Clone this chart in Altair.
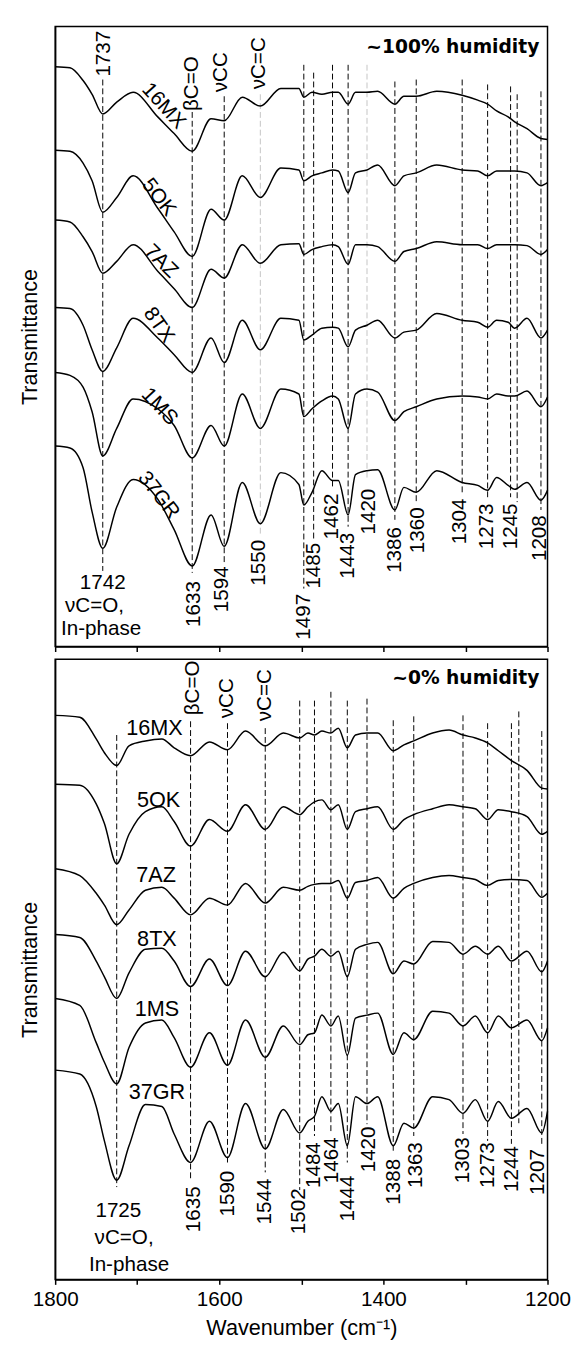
import altair as alt
import pandas as pd

SAMPLES = ["16MX", "5OK", "7AZ", "8TX", "1MS", "37GR"]

# ---------- ~100% humidity panel (transmittance, arbitrary units, offset) ----------
WN_TOP = [1800, 1782, 1766, 1755, 1742, 1725, 1705, 1675, 1655, 1633, 1610, 1594, 1572,
          1550, 1525, 1503, 1497, 1487, 1475, 1462, 1455, 1443, 1434, 1420, 1407, 1386,
          1375, 1360, 1335, 1304, 1285, 1273, 1262, 1248, 1240, 1225, 1208, 1200]
TOP_16MX = [590, 589, 576, 562, 542, 554, 564, 539, 522, 504, 537, 535, 559, 550, 568, 568,
            559, 564, 562, 564, 564, 552, 564, 564, 565, 552, 560, 560, 565, 561, 556, 552,
            545, 539, 534, 527, 517, 516]
TOP_5OK = [505, 504, 492, 474, 442, 457, 479, 446, 422, 397, 445, 434, 479, 457, 487, 485,
           474, 479, 482, 485, 484, 462, 482, 485, 490, 469, 479, 482, 490, 485, 484, 479,
           484, 484, 484, 482, 469, 472]
TOP_7AZ = [434, 432, 417, 402, 380, 392, 409, 382, 364, 345, 384, 375, 409, 390, 409, 410,
           399, 404, 407, 409, 407, 389, 409, 409, 407, 392, 402, 405, 412, 409, 409, 405,
           409, 409, 409, 408, 399, 404]
TOP_8TX = [345, 344, 327, 302, 280, 304, 334, 314, 297, 279, 314, 289, 332, 302, 334, 332,
           312, 317, 324, 325, 324, 305, 322, 327, 332, 314, 320, 322, 339, 332, 330, 325,
           332, 330, 324, 334, 314, 322]
TOP_1MS = [279, 276, 264, 239, 194, 222, 252, 242, 225, 192, 225, 204, 257, 222, 262, 257,
           234, 242, 250, 255, 252, 222, 257, 262, 259, 230, 239, 244, 252, 255, 254, 252,
           257, 255, 255, 260, 244, 254]
TOP_37GR = [204, 202, 182, 137, 100, 142, 170, 150, 119, 82, 134, 102, 167, 125, 177, 165,
            144, 157, 179, 169, 169, 134, 175, 179, 180, 139, 162, 157, 179, 167, 164, 159,
            172, 164, 160, 167, 149, 159]

# ---------- ~0% humidity panel ----------
WN_BOT = [1800, 1770, 1750, 1740, 1725, 1710, 1690, 1670, 1655, 1635, 1612, 1590, 1568,
          1544, 1522, 1502, 1492, 1484, 1475, 1464, 1455, 1444, 1434, 1420, 1407, 1388,
          1375, 1363, 1340, 1320, 1303, 1288, 1273, 1260, 1244, 1225, 1207, 1200]
BOT_16MX = [574, 572, 550, 536, 523, 543, 548, 550, 541, 533, 547, 539, 558, 543, 556, 551,
            556, 554, 558, 556, 561, 541, 554, 556, 556, 538, 544, 548, 556, 559, 554, 551,
            546, 538, 528, 518, 500, 499]
BOT_5OK = [504, 503, 484, 464, 423, 453, 476, 481, 466, 441, 468, 456, 483, 458, 481, 473,
           481, 486, 488, 478, 483, 458, 476, 479, 481, 458, 468, 473, 479, 483, 481, 479,
           468, 478, 476, 471, 453, 456]
BOT_7AZ = [418, 411, 393, 381, 361, 376, 396, 399, 388, 371, 388, 381, 403, 383, 399, 396,
           400, 402, 403, 403, 406, 388, 404, 406, 409, 388, 398, 403, 409, 411, 409, 407,
           401, 406, 407, 406, 389, 393]
BOT_8TX = [351, 348, 324, 308, 286, 312, 336, 337, 324, 298, 326, 299, 334, 308, 333, 314,
           326, 329, 336, 329, 334, 308, 336, 341, 343, 311, 324, 321, 344, 343, 331, 339,
           331, 339, 324, 334, 313, 324]
BOT_1MS = [286, 279, 241, 221, 199, 236, 261, 264, 246, 216, 251, 218, 264, 226, 258, 239,
           249, 251, 269, 258, 268, 228, 266, 269, 271, 229, 251, 244, 273, 271, 258, 268,
           251, 268, 256, 264, 243, 256]
BOT_37GR = [213, 209, 176, 141, 101, 136, 178, 176, 148, 119, 161, 124, 179, 133, 173, 149,
            161, 166, 186, 171, 179, 136, 186, 179, 186, 136, 159, 154, 186, 183, 169, 183,
            161, 181, 164, 174, 149, 171]

# ---------- peak marker lines ----------
TOP_PEAKS = [1742, 1633, 1594, 1550, 1497, 1485, 1462, 1443, 1420, 1386, 1360, 1304, 1273, 1245, 1237, 1208]
TOP_LINE_HI = [577, 544, 560, 562, 592, 584, 592, 592, 592, 575, 577, 577, 572, 570, 562, 565]
TOP_LINE_LO = [77, 75, 85, 115, 59, 109, 162, 122, 172, 129, 147, 155, 152, 152, 147, 139]
TOP_LINE_KIND = ["k", "k", "k", "g", "k", "k", "k", "k", "g", "k", "k", "k", "k", "k", "k", "k"]

BOT_PEAKS = [1725, 1635, 1590, 1544, 1502, 1484, 1464, 1444, 1420, 1388, 1363, 1303, 1273, 1244, 1235, 1207]
BOT_LINE_HI = [554, 568, 566, 561, 589, 589, 598, 589, 591, 569, 573, 574, 566, 566, 578, 558]
BOT_LINE_LO = [94, 101, 118, 109, 91, 146, 148, 119, 158, 128, 146, 148, 141, 138, 159, 136]
BOT_LINE_KIND = ["k"] * 16

# ---------- peak number labels (rotated) ----------
TOP_NUM_TXT = ["1633", "1594", "1550", "1497", "1485", "1462", "1443", "1420", "1386", "1360", "1304", "1273", "1245", "1208"]
TOP_NUM_WN = [1631, 1596, 1551, 1497, 1484, 1462, 1443, 1418, 1386, 1358, 1306, 1274, 1244, 1209]
TOP_NUM_V = [20, 35, 62, 7, 59, 109, 69, 114, 75, 95, 104, 99, 99, 87]

BOT_NUM_TXT = ["1635", "1590", "1544", "1502", "1484", "1464", "1444", "1420", "1388", "1363", "1303", "1273", "1244", "1207"]
BOT_NUM_WN = [1631, 1589, 1544, 1503, 1485, 1463, 1443, 1417, 1387, 1360, 1303, 1273, 1243, 1211]
BOT_NUM_V = [48, 64, 56, 46, 93, 98, 59, 109, 76, 93, 98, 93, 89, 86]

# ---------- band assignments at top (rotated) ----------
TOP_BAND_TXT = ["1737", "βC=O", "νCC", "νC=C"]
TOP_BAND_WN = [1740, 1633, 1598, 1551]
TOP_BAND_V = [580, 545, 564, 567]
BOT_BAND_TXT = ["βC=O", "νCC", "νC=C"]
BOT_BAND_WN = [1632, 1591, 1544]
BOT_BAND_V = [574, 571, 568]

# ---------- horizontal notes ----------
TOP_NOTE_TXT = ["1742", "νC=O,", "In-phase"]
TOP_NOTE_WN = [1742, 1752, 1744]
TOP_NOTE_V = [59, 35, 12]
BOT_NOTE_TXT = ["1725", "νC=O,", "In-phase"]
BOT_NOTE_WN = [1723, 1716, 1710]
BOT_NOTE_V = [64, 36, 9]

# ---------- sample name labels ----------
TOP_NAME_WN = [1668, 1674, 1671, 1674, 1673, 1674]
TOP_NAME_V = [550, 457, 392, 327, 244, 154]
TOP_NAME_ANG = [48, 52, 45, 55, 47, 52]
BOT_NAME_WN = [1679, 1674, 1677, 1676, 1676, 1676]
BOT_NAME_V = [554, 481, 404, 339, 268, 184]

FONT = "Liberation Sans, Arial, sans-serif"
XDOM = [1200, 1800]
YDOM = [0, 631]


def spectra_frame(wn, series):
    rows = []
    for name, vals in zip(SAMPLES, series):
        for w, v in zip(wn, vals):
            rows.append({"sample": name, "wn": w, "v": v})
    return pd.DataFrame(rows)


def panel(wn, series, peaks, hi, lo, kind, num_txt, num_wn, num_v,
          band_txt, band_wn, band_v, note_txt, note_wn, note_v,
          name_wn, name_v, name_ang, humidity_txt, humidity_v, bottom):
    xscale = alt.Scale(domain=XDOM, reverse=True, nice=False, zero=False)
    yscale = alt.Scale(domain=YDOM, nice=False, zero=False)
    if bottom:
        xaxis = alt.Axis(values=[1800, 1700, 1600, 1500, 1400, 1300, 1200],
                         labelExpr="datum.value % 200 == 0 ? datum.label : ''",
                         format="d", labelFontSize=21, labelFont=FONT, labelColor="black",
                         labelPadding=5, tickSize=5, tickColor="black", tickWidth=1.5,
                         domainColor="black", domainWidth=1.5, grid=False,
                         title="Wavenumber (cm⁻¹)", titleFontSize=22, titleFont=FONT,
                         titleFontWeight="normal", titleColor="black", titlePadding=8,
                         labelFlush=False, labelOverlap=False)
    else:
        xaxis = alt.Axis(values=[1800, 1700, 1600, 1500, 1400, 1300, 1200], labels=False,
                         tickSize=5, tickColor="black", tickWidth=1.5, domainColor="black",
                         domainWidth=1.5, grid=False, title=None)
    yaxis = alt.Axis(labels=False, ticks=False, grid=False, domainColor="black",
                     domainWidth=1.5, title="Transmittance", titleFontSize=22,
                     titleFont=FONT, titleFontWeight="normal", titleColor="black",
                     titlePadding=14)

    lines = alt.Chart(spectra_frame(wn, series)).mark_line(
        color="black", strokeWidth=1.5, interpolate="monotone"
    ).encode(
        x=alt.X("wn:Q", scale=xscale, axis=xaxis),
        y=alt.Y("v:Q", scale=yscale, axis=yaxis),
        detail="sample:N",
    )

    rule_df = pd.DataFrame({"wn": peaks, "hi": hi, "lo": lo, "kind": kind})
    rules = alt.Chart(rule_df).mark_rule(strokeDash=[6, 3], strokeWidth=1).encode(
        x=alt.X("wn:Q", scale=xscale),
        y=alt.Y("hi:Q", scale=yscale),
        y2="lo:Q",
        color=alt.Color("kind:N", scale=alt.Scale(domain=["k", "g"], range=["black", "#c4c4c4"]), legend=None),
    )

    num_df = pd.DataFrame({"wn": num_wn, "v": num_v, "t": num_txt})
    nums = alt.Chart(num_df).mark_text(angle=270, align="left", baseline="middle",
                                       fontSize=21, font=FONT, color="black").encode(
        x=alt.X("wn:Q", scale=xscale), y=alt.Y("v:Q", scale=yscale), text="t:N")

    band_df = pd.DataFrame({"wn": band_wn, "v": band_v, "t": band_txt})
    bands = alt.Chart(band_df).mark_text(angle=270, align="left", baseline="middle",
                                         fontSize=21, font=FONT, color="black").encode(
        x=alt.X("wn:Q", scale=xscale), y=alt.Y("v:Q", scale=yscale), text="t:N")

    note_df = pd.DataFrame({"wn": note_wn, "v": note_v, "t": note_txt})
    notes = alt.Chart(note_df).mark_text(align="center", baseline="alphabetic",
                                         fontSize=21, font=FONT, color="black").encode(
        x=alt.X("wn:Q", scale=xscale), y=alt.Y("v:Q", scale=yscale), text="t:N")

    name_df = pd.DataFrame({"wn": name_wn, "v": name_v, "t": SAMPLES, "a": name_ang})
    if bottom:
        names = alt.Chart(name_df).mark_text(align="center", baseline="alphabetic",
                                             fontSize=22, font=FONT, color="black").encode(
            x=alt.X("wn:Q", scale=xscale), y=alt.Y("v:Q", scale=yscale), text="t:N")
    else:
        names = alt.Chart(name_df).mark_text(align="center", baseline="middle",
                                             fontSize=21, font=FONT, color="black").encode(
            x=alt.X("wn:Q", scale=xscale), y=alt.Y("v:Q", scale=yscale), text="t:N",
            angle=alt.Angle("a:Q", scale=None))

    hum_df = pd.DataFrame({"wn": [1210], "v": [humidity_v], "t": [humidity_txt]})
    hum = alt.Chart(hum_df).mark_text(align="right", baseline="alphabetic", fontSize=19,
                                      font="DejaVu Sans", fontWeight="bold", color="black").encode(
        x=alt.X("wn:Q", scale=xscale), y=alt.Y("v:Q", scale=yscale), text="t:N")

    return alt.layer(rules, lines, nums, bands, notes, names, hum).properties(width=501, height=631)


top = panel(WN_TOP, [TOP_16MX, TOP_5OK, TOP_7AZ, TOP_8TX, TOP_1MS, TOP_37GR],
            TOP_PEAKS, TOP_LINE_HI, TOP_LINE_LO, TOP_LINE_KIND,
            TOP_NUM_TXT, TOP_NUM_WN, TOP_NUM_V, TOP_BAND_TXT, TOP_BAND_WN, TOP_BAND_V,
            TOP_NOTE_TXT, TOP_NOTE_WN, TOP_NOTE_V, TOP_NAME_WN, TOP_NAME_V, TOP_NAME_ANG,
            "~100% humidity", 604, False)
bot = panel(WN_BOT, [BOT_16MX, BOT_5OK, BOT_7AZ, BOT_8TX, BOT_1MS, BOT_37GR],
            BOT_PEAKS, BOT_LINE_HI, BOT_LINE_LO, BOT_LINE_KIND,
            BOT_NUM_TXT, BOT_NUM_WN, BOT_NUM_V, BOT_BAND_TXT, BOT_BAND_WN, BOT_BAND_V,
            BOT_NOTE_TXT, BOT_NOTE_WN, BOT_NOTE_V, BOT_NAME_WN, BOT_NAME_V, [0] * 6,
            "~0% humidity", 606, True)

chart = alt.vconcat(top, bot, spacing=5).properties(
    padding={"left": 10, "top": 6, "right": 5, "bottom": 0},
    background="white",
).configure_view(stroke="black", strokeWidth=1.5)

chart.save("out.html", embed_options={"renderer": "svg", "actions": False})
